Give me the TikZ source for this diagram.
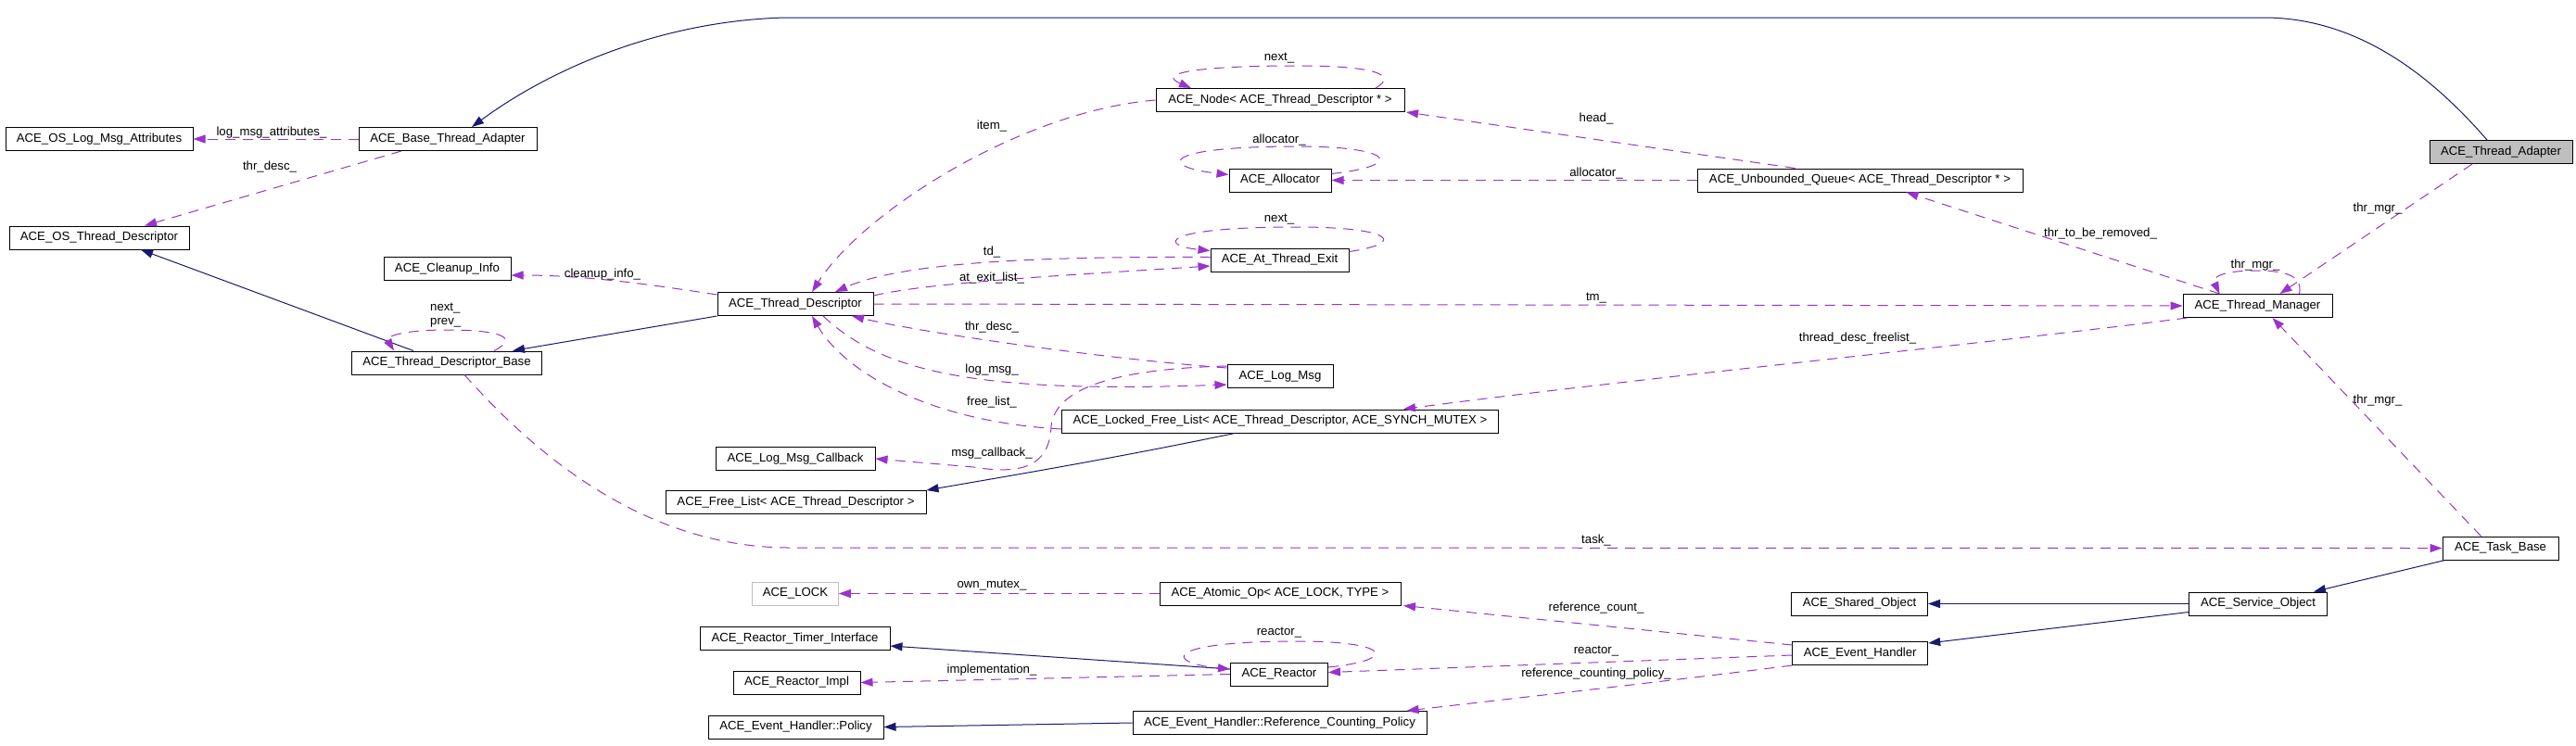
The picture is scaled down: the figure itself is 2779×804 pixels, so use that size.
\documentclass[tikz,border=0pt]{standalone}
\usepackage{fontspec}
\setmainfont{Liberation Sans}
\usetikzlibrary{arrows.meta}
\definecolor{inhcol}{HTML}{191970}
\definecolor{usecol}{HTML}{9A32CD}
\definecolor{boxgray}{HTML}{BFBFBF}
\tikzset{
 cls/.style={draw=black, line width=1pt, minimum height=25pt, inner sep=0pt, font=\fontsize{13.2}{15}\selectfont},
 lbl/.style={inner sep=0pt, font=\fontsize{13.2}{15}\selectfont},
 inh/.style={draw=inhcol, line width=1pt, -{Triangle[length=13pt,width=9pt]}},
 use/.style={draw=usecol, line width=1pt, dash pattern=on 11pt off 8pt, -{Triangle[length=13pt,width=9pt]}},
}
\begin{document}
\begin{tikzpicture}[x=1pt,y=-1pt]
\fill[white] (0,0) rectangle (2779,804);
\useasboundingbox (0,0) rectangle (2779,804);
% classes
\node[cls, minimum width=202pt] (osLMA) at (107,150) {ACE\_OS\_Log\_Msg\_Attributes};
\node[cls, minimum width=192pt] (bta) at (483,150) {ACE\_Base\_Thread\_Adapter};
\node[cls, minimum width=194pt] (osTD) at (107,256.5) {ACE\_OS\_Thread\_Descriptor};
\node[cls, minimum width=137pt] (cleanup) at (482.5,290) {ACE\_Cleanup\_Info};
\node[cls, minimum width=205pt] (tdb) at (482,391.5) {ACE\_Thread\_Descriptor\_Base};
\node[cls, minimum width=168pt] (td) at (858,328) {ACE\_Thread\_Descriptor};
\node[cls, minimum width=268pt] (anode) at (1381,108) {ACE\_Node< ACE\_Thread\_Descriptor * >};
\node[cls, minimum width=110pt] (alloc) at (1381,194.5) {ACE\_Allocator};
\node[cls, minimum width=149pt] (ate) at (1380.5,280.5) {ACE\_At\_Thread\_Exit};
\node[cls, minimum width=351pt] (uq) at (2006.5,194.5) {ACE\_Unbounded\_Queue< ACE\_Thread\_Descriptor * >};
\node[cls, fill=boxgray, minimum width=154pt] (ta) at (2698,164) {ACE\_Thread\_Adapter};
\node[cls, minimum width=161pt] (tm) at (2435.5,330) {ACE\_Thread\_Manager};
\node[cls, minimum width=114pt] (logmsg) at (1381,406) {ACE\_Log\_Msg};
\node[cls, minimum width=471pt] (lfl) at (1381,454.5) {ACE\_Locked\_Free\_List< ACE\_Thread\_Descriptor, ACE\_SYNCH\_MUTEX >};
\node[cls, minimum width=172pt] (lmc) at (858,495) {ACE\_Log\_Msg\_Callback};
\node[cls, minimum width=281pt] (fl) at (858.5,542) {ACE\_Free\_List< ACE\_Thread\_Descriptor >};
\node[cls, draw=boxgray, minimum width=92.5pt] (lock) at (858,640.5) {ACE\_LOCK};
\node[cls, minimum width=260pt] (atomic) at (1381,640.5) {ACE\_Atomic\_Op< ACE\_LOCK, TYPE >};
\node[cls, minimum width=205pt] (rti) at (857.5,689) {ACE\_Reactor\_Timer\_Interface};
\node[cls, minimum width=137pt] (rimpl) at (859.5,736.5) {ACE\_Reactor\_Impl};
\node[cls, minimum width=105pt] (reactor) at (1380,727.5) {ACE\_Reactor};
\node[cls, minimum width=189pt] (policy) at (858.5,784.5) {ACE\_Event\_Handler::Policy};
\node[cls, minimum width=317pt] (rcp) at (1380.5,780) {ACE\_Event\_Handler::Reference\_Counting\_Policy};
\node[cls, minimum width=147pt] (shared) at (2006,651.5) {ACE\_Shared\_Object};
\node[cls, minimum width=146pt] (eh) at (2006.7,705) {ACE\_Event\_Handler};
\node[cls, minimum width=149pt] (so) at (2436,651.5) {ACE\_Service\_Object};
\node[cls, minimum width=125pt] (tb) at (2697.5,591.5) {ACE\_Task\_Base};
% inheritance
\draw[inh] ([xshift=-15pt]ta.north) .. controls (2630,90) and (2550,19) .. (2442,19) -- (848,19) .. controls (720,22) and (600,70) .. ([xshift=26pt]bta.north);
\draw[inh] ([xshift=-36pt]tdb.north) -- ([xshift=45pt]osTD.south);
\draw[inh] (td.south west) -- ([xshift=71pt]tdb.north);
\draw[inh] ([xshift=-49pt]lfl.south) .. controls (1200,495) and (1080,515) .. (fl.north east);
\draw[inh] ([xshift=-60pt]tb.south) -- ([xshift=60pt]so.north);
\draw[inh] (so.west) -- (shared.east);
\draw[inh] ([yshift=-9pt]so.west) -- ([yshift=11pt]eh.east);
\draw[inh] ([yshift=5.5pt]reactor.west) -- ([yshift=-8pt]rti.east);
\draw[inh] (rcp.west) -- (policy.east);
% usage
\draw[use] (bta.west) -- (osLMA.east);
\node[lbl] (l1) at (293,143) {log\_msg\_attributes\_};
\draw[use] ([xshift=-50pt]bta.south) -- ([xshift=49pt]osTD.north);
\node[lbl] (l2) at (291,180) {thr\_desc\_};
\draw[use] ([xshift=51pt]tdb.north) .. controls (565,362) and (530,356) .. (482,356) .. controls (440,356) and (415,362) .. ([xshift=-57pt]tdb.north);
\node[lbl, align=left, anchor=west] (l3) at (464,340) {next\_\\prev\_};
\draw[use] ([yshift=10pt]td.west) .. controls (720,310) and (640,297) .. ([yshift=-7pt]cleanup.east);
\node[lbl] (l4) at (650,296) {cleanup\_info\_};
\draw[use] (anode.west) .. controls (1100,120) and (930,230) .. ([xshift=18pt]td.north);
\node[lbl] (l5) at (1070,136) {item\_};
\draw[use] ([xshift=103pt]anode.north) .. controls (1510,80) and (1480,71) .. (1400,71) .. controls (1300,71) and (1245,78) .. ([xshift=-96pt]anode.north);
\node[lbl] (l6) at (1380,63) {next\_};
\draw[use] ([yshift=7pt]alloc.east) .. controls (1520,178) and (1500,158) .. (1400,158) .. controls (1250,158) and (1250,180) .. ([yshift=6pt]alloc.west);
\node[lbl] (l7) at (1380,151) {allocator\_};
\draw[use] (uq.west) -- (alloc.east);
\node[lbl] (l8) at (1722,187) {allocator\_};
\draw[use] ([xshift=-70pt]uq.north) -- ([xshift=136pt]anode.south);
\node[lbl] (l9) at (1722,128) {head\_};
\draw[use] ([yshift=9pt]ate.east) .. controls (1520,262) and (1500,245) .. (1400,245) .. controls (1250,245) and (1250,265) .. ([yshift=10pt]ate.west);
\node[lbl] (l10) at (1380,237) {next\_};
\draw[use] ([yshift=9pt]td.east) .. controls (1000,305) and (1150,297) .. ([yshift=-6.5pt]ate.west);
\node[lbl] (l11) at (1070,300) {at\_exit\_list\_};
\draw[use] ([yshift=3pt]ate.west) .. controls (1150,277) and (980,280) .. ([xshift=43pt]td.north);
\node[lbl] (l12) at (1070,272) {td\_};
\draw[use] (td.east) -- (tm.west);
\node[lbl] (l13) at (1722,322) {tm\_};
\draw[use] ([yshift=9pt]logmsg.west) .. controls (1200,388) and (1000,360) .. ([xshift=61pt]td.south);
\node[lbl] (l14) at (1070,353) {thr\_desc\_};
\draw[use] ([xshift=30pt]td.south) .. controls (950,400) and (1050,425) .. ([yshift=-9pt]logmsg.west);
\node[lbl] (l15) at (1070,399) {log\_msg\_};
\draw[use] ([yshift=-8.5pt]lfl.west) .. controls (1000,455) and (910,400) .. ([xshift=18pt]td.south);
\node[lbl] (l16) at (1070,434) {free\_list\_};
\draw[use] ([yshift=11pt]logmsg.west) .. controls (1200,398) and (1138,420) .. (1134,460) .. controls (1132,505) and (1100,512) .. (1050,504) -- (lmc.east);
\node[lbl] (l17) at (1070,489) {msg\_callback\_};
\draw[use] ([xshift=5pt]tm.south west) .. controls (2150,370) and (1750,410) .. ([xshift=133pt]lfl.north);
\node[lbl] (l18) at (2004,365) {thread\_desc\_freelist\_};
\draw[use] ([xshift=-41pt]tm.north) -- ([xshift=50pt]uq.south);
\node[lbl] (l19) at (2266,252) {thr\_to\_be\_removed\_};
\draw[use] ([xshift=45pt]tm.north) .. controls (2485,295) and (2460,292) .. (2433,292) .. controls (2405,292) and (2385,297) .. ([xshift=-41pt]tm.north);
\node[lbl] (l20) at (2433,286) {thr\_mgr\_};
\draw[use] ([xshift=-31pt]ta.south) -- ([xshift=24pt]tm.north);
\node[lbl] (l21) at (2565,225) {thr\_mgr\_};
\draw[use] ([xshift=-21pt]tb.north) -- ([xshift=16pt]tm.south);
\node[lbl] (l22) at (2565,432) {thr\_mgr\_};
\draw[use] ([xshift=19pt]tdb.south) .. controls (560,470) and (680,590) .. (850,591) -- (tb.west);
\node[lbl] (l23) at (1722,583) {task\_};
\draw[use] ([yshift=9pt]eh.west) -- ([xshift=133pt]atomic.south);
\node[lbl] (l24) at (1722,656) {reference\_count\_};
\draw[use] ([yshift=-2pt]eh.west) -- ([yshift=2pt]reactor.east);
\node[lbl] (l25) at (1722,703) {reactor\_};
\draw[use] (eh.south west) .. controls (1800,735) and (1620,755) .. ([xshift=137pt]rcp.north);
\node[lbl] (l26) at (1722,727) {reference\_counting\_policy\_};
\draw[use] ([yshift=7.5pt]reactor.east) .. controls (1510,712) and (1500,692) .. (1400,692) .. controls (1255,692) and (1255,715) .. ([yshift=5.5pt]reactor.west);
\node[lbl] (l27) at (1380,683) {reactor\_};
\draw[use] (atomic.west) -- (lock.east);
\node[lbl] (l28) at (1070,632) {own\_mutex\_};
\draw[use] (reactor.west) -- (rimpl.east);
\node[lbl] (l29) at (1070,723) {implementation\_};
\end{tikzpicture}
\end{document}
